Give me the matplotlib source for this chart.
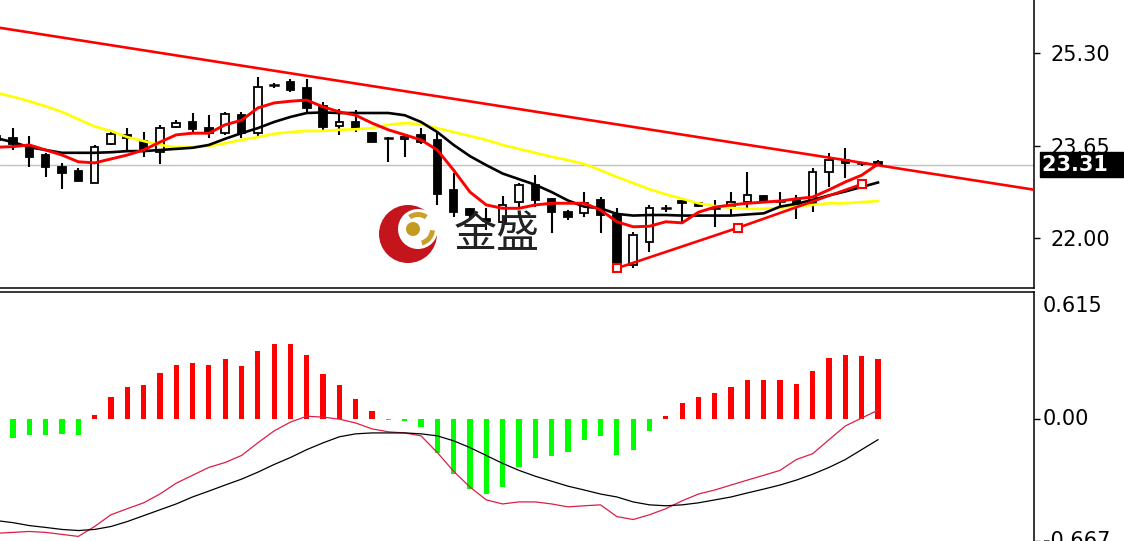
import numpy as np
import matplotlib
matplotlib.use("Agg")
import matplotlib.pyplot as plt
from matplotlib.patches import Rectangle, Circle, Wedge
import matplotlib.transforms as mtrans

# ---------------- data (index -1 .. 53) ----------------
opens = [23.75, 23.78, 23.62, 23.48, 23.27, 23.20, 22.98, 23.68, 23.84, 23.73, 23.53,
         23.98, 24.07, 23.96, 23.87, 24.19, 23.87, 24.73, 24.78, 24.68, 24.35,
         24.00, 24.07, 23.87, 23.79, 23.77, 23.84, 23.75, 22.86, 22.52, 22.34,
         22.29, 22.64, 22.95, 22.70, 22.46, 22.45, 22.68, 22.41, 21.52, 21.92,
         22.54, 22.66, 22.62, 22.54, 22.55, 22.64, 22.75, 22.66, 22.68, 22.62,
         23.18, 23.39, 23.34, 23.36]
highs = [23.86, 23.96, 23.82, 23.52, 23.34, 23.25, 23.66, 23.89, 23.96, 23.89, 24.02,
         24.11, 24.23, 24.19, 24.25, 24.25, 24.87, 24.77, 24.84, 24.84, 24.43,
         24.30, 24.28, 23.89, 23.80, 23.80, 23.96, 23.87, 23.16, 22.54, 22.54,
         22.75, 22.98, 23.12, 22.71, 22.50, 22.82, 22.73, 22.54, 22.11, 22.59,
         22.59, 22.66, 22.64, 22.68, 22.82, 23.18, 22.77, 22.82, 22.77, 23.25,
         23.52, 23.61, 23.36, 23.39]
lows = [23.72, 23.57, 23.27, 23.09, 22.87, 23.02, 22.98, 23.66, 23.57, 23.45, 23.32,
        23.96, 23.89, 23.78, 23.84, 23.78, 23.80, 24.68, 24.60, 24.23, 23.93,
        23.84, 23.89, 23.71, 23.36, 23.45, 23.68, 22.59, 22.37, 22.36, 22.14,
        22.14, 22.55, 22.55, 22.09, 22.32, 22.37, 22.09, 21.48, 21.46, 21.75,
        22.46, 22.29, 22.55, 22.20, 22.41, 22.54, 22.64, 22.54, 22.34, 22.46,
        22.91, 23.07, 23.28, 23.30]
closes = [23.82, 23.68, 23.45, 23.27, 23.16, 23.02, 23.62, 23.86, 23.78, 23.57, 23.96,
          24.05, 23.94, 23.87, 24.21, 23.87, 24.69, 24.73, 24.64, 24.32, 23.98,
          24.07, 23.94, 23.71, 23.78, 23.80, 23.71, 22.78, 22.46, 22.41, 22.31,
          22.59, 22.95, 22.68, 22.46, 22.37, 22.62, 22.41, 21.50, 22.05, 22.54,
          22.54, 22.62, 22.57, 22.53, 22.64, 22.77, 22.66, 22.66, 22.59, 23.18,
          23.39, 23.34, 23.33, 23.31]

ma_red = [23.62, 23.63, 23.66, 23.57, 23.48, 23.36, 23.34, 23.41, 23.48, 23.57, 23.71,
          23.84, 23.87, 23.87, 24.02, 24.10, 24.32, 24.41, 24.44, 24.46, 24.34,
          24.25, 24.19, 24.05, 23.93, 23.84, 23.75, 23.57, 23.21, 22.82, 22.59,
          22.53, 22.53, 22.59, 22.62, 22.62, 22.62, 22.50, 22.29, 22.20, 22.21,
          22.29, 22.27, 22.46, 22.55, 22.59, 22.62, 22.64, 22.66, 22.70, 22.73,
          22.86, 23.00, 23.12, 23.32]
ma_black = [23.78, 23.71, 23.62, 23.57, 23.52, 23.52, 23.52, 23.53, 23.55, 23.55, 23.57,
            23.59, 23.61, 23.66, 23.77, 23.87, 23.96, 24.07, 24.16, 24.23, 24.24,
            24.23, 24.23, 24.23, 24.23, 24.19, 24.07, 23.89, 23.66, 23.46, 23.30,
            23.15, 23.05, 22.95, 22.82, 22.67, 22.56, 22.53, 22.43, 22.40, 22.41,
            22.41, 22.40, 22.40, 22.40, 22.40, 22.42, 22.44, 22.56, 22.61, 22.68,
            22.76, 22.83, 22.91, 22.99]
ma_yellow = [24.59, 24.52, 24.44, 24.35, 24.25, 24.12, 23.99, 23.91, 23.80, 23.73, 23.66,
             23.62, 23.62, 23.64, 23.69, 23.75, 23.80, 23.86, 23.89, 23.91, 23.91,
             23.93, 23.94, 23.96, 24.02, 24.05, 24.03, 23.96, 23.89, 23.82, 23.75,
             23.66, 23.59, 23.52, 23.45, 23.39, 23.32, 23.21, 23.09, 22.98, 22.87,
             22.78, 22.70, 22.62, 22.57, 22.54, 22.52, 22.52, 22.54, 22.57, 22.59,
             22.62, 22.62, 22.64, 22.66]

macd_hist = [-0.141, -0.105, -0.090, -0.090, -0.083, -0.090, 0.017, 0.119, 0.173, 0.182, 0.250,
             0.294, 0.302, 0.294, 0.325, 0.286, 0.370, 0.405, 0.405, 0.348, 0.241,
             0.182, 0.106, 0.039, -0.006, -0.012, -0.047, -0.185, -0.302, -0.382, -0.409,
             -0.370, -0.262, -0.216, -0.203, -0.180, -0.119, -0.096, -0.200, -0.173, -0.065,
             0.012, 0.083, 0.119, 0.142, 0.173, 0.212, 0.212, 0.212, 0.191, 0.257,
             0.330, 0.346, 0.339, 0.325]
macd_dif = [-0.625, -0.620, -0.615, -0.620, -0.631, -0.642, -0.588, -0.524, -0.491, -0.459, -0.411,
            -0.352, -0.309, -0.266, -0.239, -0.201, -0.132, -0.067, -0.019, 0.013, 0.008,
            -0.003, -0.024, -0.056, -0.072, -0.078, -0.094, -0.185, -0.287, -0.373, -0.443,
            -0.465, -0.454, -0.454, -0.465, -0.481, -0.475, -0.470, -0.534, -0.550, -0.524,
            -0.491, -0.448, -0.411, -0.389, -0.362, -0.335, -0.309, -0.282, -0.223, -0.191,
            -0.115, -0.040, 0.003, 0.046]
macd_dea = [-0.556, -0.567, -0.583, -0.593, -0.604, -0.610, -0.604, -0.588, -0.561, -0.529, -0.497,
            -0.465, -0.427, -0.395, -0.362, -0.330, -0.292, -0.250, -0.212, -0.169, -0.132,
            -0.099, -0.083, -0.078, -0.078, -0.078, -0.083, -0.094, -0.121, -0.158, -0.201,
            -0.244, -0.282, -0.314, -0.341, -0.368, -0.389, -0.411, -0.427, -0.454, -0.470,
            -0.475, -0.470, -0.459, -0.443, -0.427, -0.405, -0.384, -0.362, -0.335, -0.303,
            -0.266, -0.223, -0.169, -0.115]

resist_x = [-0.8, 62.6]
resist_y = [25.75, 22.86]
support_x = [37, 44.4, 52.0]
support_y = [21.46, 22.18, 22.96]
last_price = 23.31
price_ticks = [25.30, 23.65, 22.00]
price_tick_labels = ["25.30", "23.65", "22.00"]
macd_labels = [0.615, 0.00, -0.667]
macd_label_text = ["0.615", "0.00", "-0.667"]

x = np.arange(-1, len(closes) - 1)

W, H = 1124, 541
fig = plt.figure(figsize=(W / 100, H / 100), dpi=100)
fig.patch.set_facecolor("white")
ax1 = fig.add_axes([0, 1 - 288 / H, 1034 / W, 288 / H])
ax2 = fig.add_axes([0, 0, 1034 / W, 1 - 292 / H])

xlim = (-0.797, 62.56)

# ---------------- price panel ----------------
ax1.set_xlim(*xlim)
ax1.set_ylim(21.108, 26.246)
body_w = 0.46
for xi, o, h, l, c in zip(x, opens, highs, lows, closes):
    ax1.plot([xi, xi], [l, h], color="black", lw=1.5, zorder=2, solid_capstyle="butt")
    if abs(c - o) < 0.025:
        ax1.plot([xi - body_w / 2, xi + body_w / 2], [c, c], color="black", lw=1.8, zorder=3)
    elif c > o:
        ax1.add_patch(Rectangle((xi - body_w / 2, o), body_w, c - o, facecolor="white",
                                edgecolor="black", lw=1.3, zorder=3))
    else:
        ax1.add_patch(Rectangle((xi - body_w / 2, c), body_w, o - c, facecolor="black",
                                edgecolor="black", lw=1.3, zorder=3))

ax1.axhline(last_price, color="#c0c0c0", lw=1.0, zorder=1)
ax1.plot(x, ma_yellow, color="#ffff00", lw=1.9, zorder=4)
ax1.plot(x, ma_black, color="black", lw=1.9, zorder=5)
ax1.plot(x, ma_red, color="#ff0000", lw=2.1, zorder=6)
ax1.plot(resist_x, resist_y, color="#ff0000", lw=1.9, zorder=7)
ax1.plot(support_x, support_y, color="#ff0000", lw=1.9, zorder=7, marker="s",
         markersize=5.5, markerfacecolor="white", markeredgecolor="#ff0000",
         markeredgewidth=1.5)

for s in ["left", "top"]:
    ax1.spines[s].set_visible(False)
for s in ["right", "bottom"]:
    ax1.spines[s].set_linewidth(1.1)
ax1.set_xticks([])
ax1.yaxis.tick_right()
ax1.set_yticks(price_ticks)
ax1.set_yticklabels(price_tick_labels)
ax1.tick_params(axis="y", direction="out", length=4, width=1, pad=8, labelsize=15,
                colors="black")

# last price box
trans1 = mtrans.blended_transform_factory(ax1.transAxes, ax1.transData)
ax1.text(1042 / 1034, last_price, "23.31   ", transform=trans1, ha="left", va="center",
         fontsize=15, color="white", fontweight="bold", clip_on=False, zorder=20,
         bbox=dict(boxstyle="square,pad=0.12", facecolor="black", edgecolor="black"))

# ---------------- MACD panel ----------------
ax2.set_xlim(*xlim)
ax2.set_ylim(-0.6471, 0.6900)
cols = ["#ff0000" if v >= 0 else "#00ff00" for v in macd_hist]
ax2.bar(x, macd_hist, width=0.32, color=cols, zorder=2)
ax2.plot(x, macd_dif, color="#dc1e46", lw=0.9, zorder=3)
ax2.plot(x, macd_dea, color="black", lw=0.9, zorder=3)
for s in ["left", "bottom"]:
    ax2.spines[s].set_visible(False)
for s in ["right", "top"]:
    ax2.spines[s].set_linewidth(1.1)
ax2.set_xticks([])
ax2.yaxis.tick_right()
ax2.set_yticks([0.0, -0.667])
ax2.set_yticklabels([])
ax2.tick_params(axis="y", direction="out", length=4, width=1)
trans2 = mtrans.blended_transform_factory(ax2.transAxes, ax2.transData)
for v, t in zip(macd_labels, macd_label_text):
    ax2.text(1043 / 1034, v, t, transform=trans2, ha="left", va="center", fontsize=15,
             color="black", clip_on=False)

# ---------------- watermark logo ----------------
lax = fig.add_axes([379 / W, 1 - 265 / H, 60 / W, 60 / H])
lax.set_xlim(0, 60)
lax.set_ylim(60, 0)
lax.set_aspect("equal")
lax.axis("off")
lax.add_patch(Circle((29, 29), 29, facecolor="#c4141c", edgecolor="none"))
lax.add_patch(Circle((39, 24), 20, facecolor="white", edgecolor="none"))
lax.add_patch(Wedge((39, 24), 17, 235, 305, width=5, facecolor="#c9a12a", edgecolor="none"))
lax.add_patch(Wedge((39, 24), 17, 5, 75, width=5, facecolor="#c9a12a", edgecolor="none"))
lax.add_patch(Circle((34, 24), 7, facecolor="#c49a22", edgecolor="none"))
fig.text(497 / W, 1 - 235 / H, "金盛", fontsize=31, color="#222222",
         family=["Noto Sans CJK SC", "DejaVu Sans"], ha="center", va="center")

fig.savefig("out.png", dpi=100, facecolor="white")
